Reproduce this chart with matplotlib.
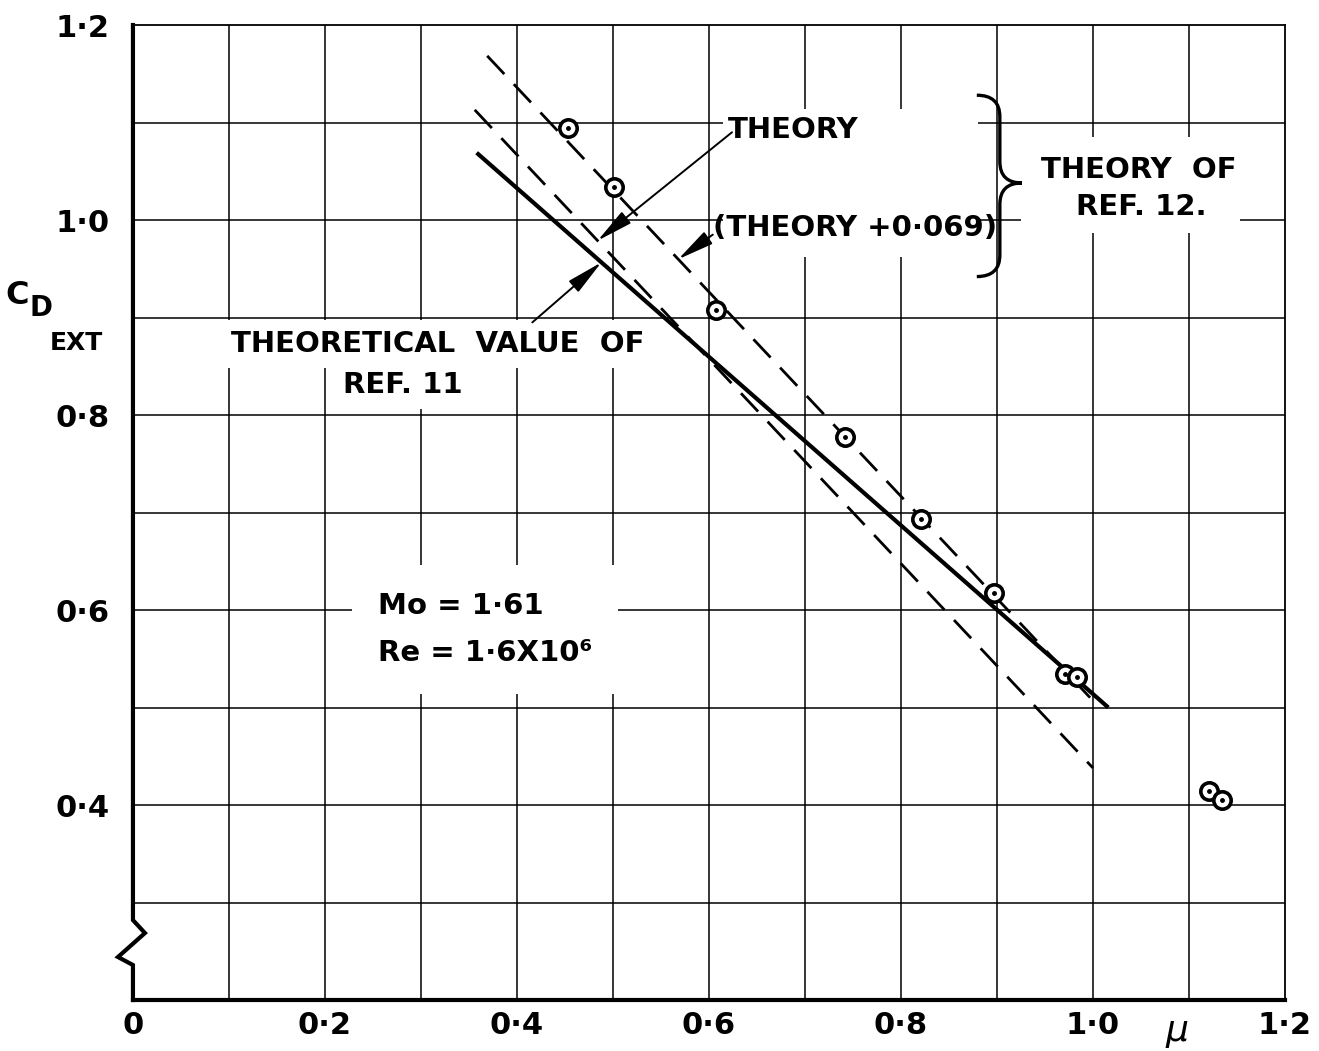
import numpy as np
import matplotlib
matplotlib.use("Agg")
import matplotlib.pyplot as plt
from matplotlib.patches import Rectangle, PathPatch
from matplotlib.path import Path

plt.rcParams['font.family'] = ['DejaVu Sans']
plt.rcParams['font.weight'] = 'bold'

# measured drag coefficient against mass flow ratio
mu = [0.453, 0.501, 0.607, 0.742, 0.821, 0.897, 0.971, 0.983, 1.121, 1.134]
cd_ext = [1.094, 1.034, 0.908, 0.777, 0.693, 0.617, 0.534, 0.531, 0.414, 0.405]

# theory of ref. 12 (dashed) and the shifted curve
theory_mu = [0.356, 1.0]
theory_cd = [1.113, 0.438]
offset = 0.069
upper_mu = [0.369, 1.0]

# theoretical value of ref. 11 (solid)
ref11_mu = [0.358, 1.016]
ref11_cd = [1.069, 0.500]

xticks = [0, 0.2, 0.4, 0.6, 0.8, 1.0, 1.2]
xticklabels = ['0', '0·2', '0·4', '0·6', '0·8', '1·0', '1·2']
yticks = [0.4, 0.6, 0.8, 1.0, 1.2]
yticklabels = ['0·4', '0·6', '0·8', '1·0', '1·2']

fig = plt.figure(figsize=(13.19, 10.51), dpi=100)
ax = fig.add_axes([0.1008, 0.0485, 0.8734, 0.9277])
ax.set_xlim(0, 1.2)
ax.set_ylim(0.2, 1.2)

# grid every 0.1
for gx in np.arange(0.1, 1.15, 0.1):
    ax.axvline(gx, color='black', lw=1.1, zorder=1)
for gy in np.arange(0.3, 1.15, 0.1):
    ax.axhline(gy, color='black', lw=1.1, zorder=1)

ax.set_xticks(xticks)
ax.set_xticklabels(xticklabels, fontsize=22)
ax.set_yticks(yticks)
ax.set_yticklabels(yticklabels, fontsize=22)
ax.tick_params(axis='both', length=0)
ax.tick_params(axis='x', pad=8)
ax.tick_params(axis='y', pad=17)

for side in ['top', 'right']:
    ax.spines[side].set_linewidth(1.3)
ax.spines['bottom'].set_linewidth(3)
ax.spines['left'].set_visible(False)

# left axis with a break near the bottom
ax.plot([0, 0, 0.0104, -0.013, 0, 0], [1, 0.082, 0.0687, 0.0441, 0.0359, 0],
        transform=ax.transAxes, color='black', lw=3, clip_on=False,
        solid_joinstyle='miter', zorder=6)

# white ground behind the labels
ax.add_patch(Rectangle((0.615, 0.962), 0.265, 0.152, facecolor='white',
                       edgecolor='none', zorder=2))
ax.add_patch(Rectangle((0.925, 0.987), 0.228, 0.098, facecolor='white',
                       edgecolor='none', zorder=2))

theory_y = np.array(theory_cd)
upper_y = np.interp(upper_mu, theory_mu, theory_cd) + offset

ax.plot(theory_mu, theory_y, color='black', lw=2, dashes=(9, 5), zorder=4)
ax.plot(upper_mu, upper_y, color='black', lw=2, dashes=(9, 5), zorder=4)
ax.plot(ref11_mu, ref11_cd, color='black', lw=3, zorder=4,
        solid_capstyle='butt')

ax.plot(mu, cd_ext, linestyle='none', marker='o', markersize=12.5,
        markerfacecolor='white', markeredgecolor='black',
        markeredgewidth=2.6, zorder=5)
ax.plot(mu, cd_ext, linestyle='none', marker='o', markersize=2.5,
        color='black', zorder=6)

box = dict(boxstyle='square,pad=0.35', facecolor='white', edgecolor='none')

ax.text(0.620, 1.092, 'THEORY', fontsize=21, ha='left', va='center', zorder=3)
ax.text(0.604, 0.992, '(THEORY +0·069)', fontsize=21, ha='left', va='center',
        zorder=3)
ax.text(1.048, 1.051, 'THEORY  OF', fontsize=21, ha='center', va='center',
        zorder=3)
ax.text(1.050, 1.013, 'REF. 12.', fontsize=21, ha='center', va='center',
        zorder=3)
ax.text(0.317, 0.873, 'THEORETICAL  VALUE  OF', fontsize=21, ha='center',
        va='center', bbox=box, zorder=3)
ax.text(0.281, 0.831, 'REF. 11', fontsize=21, ha='center', va='center',
        bbox=box, zorder=3)
ax.text(0.255, 0.580, 'Mo = 1·61\nRe = 1·6X10⁶', fontsize=21, ha='left',
        va='center', linespacing=1.9,
        bbox=dict(boxstyle='square,pad=0.9', facecolor='white',
                  edgecolor='none'), zorder=3)

# curly brace grouping the two ref. 12 curves
x0, xs, xt = 0.879, 0.903, 0.926
ytop, ymid, ybot, r = 1.128, 1.038, 0.942, 0.022
verts = [(x0, ytop), (xs, ytop), (xs, ytop - r),
         (xs, ymid + r),
         (xs, ymid), (xt, ymid),
         (xs, ymid), (xs, ymid - r),
         (xs, ybot + r),
         (xs, ybot), (x0, ybot)]
codes = [Path.MOVETO, Path.CURVE3, Path.CURVE3,
         Path.LINETO,
         Path.CURVE3, Path.CURVE3,
         Path.CURVE3, Path.CURVE3,
         Path.LINETO,
         Path.CURVE3, Path.CURVE3]
ax.add_patch(PathPatch(Path(verts, codes), facecolor='none',
                       edgecolor='black', lw=2.4, zorder=4))

# leader arrows
arrow = dict(arrowstyle='-|>,head_length=1.6,head_width=0.32', color='black',
             lw=1.4, mutation_scale=14, shrinkA=0, shrinkB=0)
tip = 0.484
ax.annotate('', xy=(tip, np.interp(tip, theory_mu, theory_cd)),
            xytext=(0.624, 1.090), arrowprops=arrow, zorder=5)
tip = 0.568
ax.annotate('', xy=(tip, np.interp(tip, upper_mu, upper_y)),
            xytext=(0.604, 0.985), arrowprops=arrow, zorder=5)
tip = 0.488
ax.annotate('', xy=(tip, np.interp(tip, ref11_mu, ref11_cd)),
            xytext=(0.416, 0.895), arrowprops=arrow, zorder=5)

# mu axis name between the last two tick labels
ax.text(1.088, -0.032, 'μ', fontsize=26, style='italic', fontweight='normal',
        ha='center', va='center', transform=ax.get_xaxis_transform())

# C_D EXT label
fig.text(17 / 1319, 1 - 296 / 1051, 'C', fontsize=23, ha='center', va='center')
fig.text(41 / 1319, 1 - 308 / 1051, 'D', fontsize=20, ha='center', va='center')
fig.text(76 / 1319, 1 - 343 / 1051, 'EXT', fontsize=18, ha='center',
         va='center')

fig.savefig('out.png', dpi=100, facecolor='white')
